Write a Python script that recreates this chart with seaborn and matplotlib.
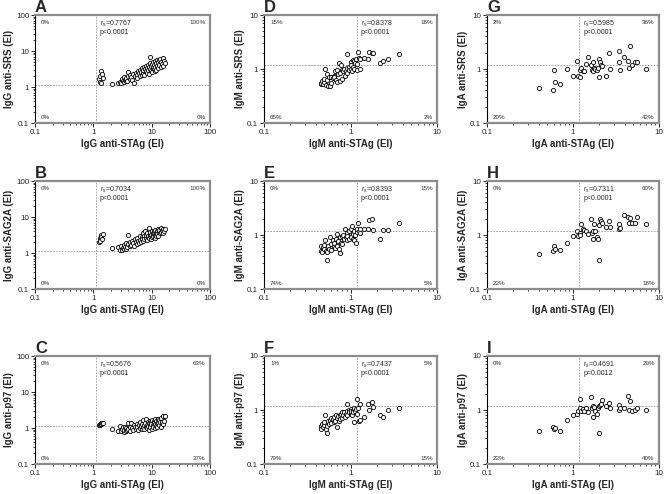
import matplotlib
matplotlib.use("Agg")
import matplotlib.pyplot as plt
import seaborn as sns
import pandas as pd
from matplotlib.ticker import FixedLocator, LogLocator, NullFormatter, FuncFormatter

sns.set_style("ticks")
plt.rcParams['font.family'] = ['Liberation Sans', 'DejaVu Sans']
plt.rcParams['mathtext.fontset'] = 'custom'
plt.rcParams['mathtext.rm'] = 'Liberation Sans'
plt.rcParams['mathtext.it'] = 'Liberation Sans'

# ---------------- data ----------------
igg_stag = [1.25, 1.3, 1.32, 1.35, 1.38, 1.42, 1.45,
            2.1, 2.6, 2.9, 3.0, 3.1, 3.2, 3.3, 3.4, 3.5, 3.6,
            3.7, 3.8, 4.0, 4.0, 4.2, 4.3, 4.5, 4.6, 4.8, 5.0,
            5.1, 5.3, 5.5, 5.6, 5.8, 6.0, 6.2, 6.3, 6.5, 6.7,
            6.9, 7.0, 7.2, 7.4, 7.5, 7.7, 7.9, 8.0, 8.2, 8.4,
            8.5, 8.7, 8.9, 9.0, 9.2, 9.4, 9.5, 9.7, 9.9, 10.0,
            10.2, 10.4, 10.6, 10.8, 11.0, 11.2, 11.4, 11.6, 11.8, 12.0,
            12.2, 12.5, 12.8, 13.0, 13.3, 13.6, 14.0, 14.3, 14.6, 15.0,
            15.4, 15.8, 16.2, 16.8]
igg_srs = [1.7, 1.4, 2.0, 1.3, 2.7, 2.3, 1.8,
           1.2, 1.3, 1.4, 1.3, 1.7, 1.5, 1.4, 1.9, 1.6, 1.5,
           1.8, 1.5, 2.0, 2.6, 1.7, 2.1, 1.9, 1.6, 2.3, 1.3,
           2.0, 2.5, 2.2, 1.8, 2.8, 2.4, 2.0, 3.0, 2.6, 2.2,
           3.3, 2.4, 2.9, 3.6, 2.1, 3.1, 2.7, 3.9, 2.5, 3.4,
           4.2, 2.9, 3.6, 2.3, 4.6, 3.2, 7.0, 2.8, 3.8, 4.4,
           2.6, 3.5, 5.0, 3.1, 4.0, 2.7, 5.4, 3.6, 4.6, 3.0,
           5.8, 3.9, 4.8, 3.3, 5.5, 4.1, 6.0, 3.6, 5.0, 4.3,
           6.5, 3.8, 5.2, 4.5]
igg_sag2a = [2.0, 2.6, 2.2, 3.2, 2.8, 2.4, 3.4,
             1.35, 1.45, 1.25, 1.6, 1.2, 1.4, 1.3, 1.7, 1.5, 1.3,
             1.9, 1.5, 3.1, 1.8, 1.6, 2.0, 1.7, 2.2, 1.9, 1.6,
             2.4, 2.0, 1.8, 2.6, 2.2, 1.9, 3.0, 2.3, 2.0, 2.7,
             2.4, 3.6, 2.2, 2.9, 2.5, 4.0, 2.6, 3.2, 2.3, 3.5,
             2.8, 3.0, 5.0, 2.6, 3.4, 2.9, 3.8, 2.5, 3.2, 4.2,
             2.8, 3.6, 3.0, 4.0, 3.3, 2.6, 4.4, 3.1, 3.7, 2.9,
             4.1, 3.4, 4.6, 3.0, 3.8, 4.3, 3.5, 4.8, 3.9, 4.4,
             3.6, 4.7, 4.0, 4.5]
igg_p97 = [1.25, 1.2, 1.3, 1.35, 1.3, 1.4, 1.35,
           0.95, 0.8, 1.15, 0.85, 0.95, 1.05, 0.78, 0.9, 1.1, 0.85,
           1.0, 0.9, 1.35, 0.95, 1.1, 0.85, 1.4, 1.0, 0.9, 1.2,
           1.05, 0.95, 1.3, 1.1, 0.9, 1.25, 1.0, 1.45, 1.15, 0.95,
           1.3, 1.05, 1.7, 1.2, 0.95, 1.4, 1.1, 1.8, 1.25, 1.0,
           1.5, 1.15, 1.35, 0.9, 1.6, 1.2, 1.05, 1.45, 1.3, 0.95,
           1.7, 1.25, 1.1, 1.55, 1.35, 1.0, 1.75, 1.3, 1.15, 1.6,
           1.4, 1.05, 1.8, 1.35, 1.2, 1.65, 1.45, 1.1, 1.9, 1.5,
           1.3, 2.1, 1.6, 2.2]

igm_stag = [0.45, 0.46, 0.47, 0.48, 0.5, 0.5, 0.51, 0.52, 0.53, 0.54,
            0.55, 0.56, 0.58, 0.6, 0.6, 0.62, 0.64, 0.65, 0.67, 0.68,
            0.7, 0.7, 0.72, 0.73, 0.75, 0.76, 0.78, 0.8, 0.8, 0.82,
            0.84, 0.86, 0.88, 0.9, 0.9, 0.92, 0.95, 0.97, 1.0, 1.0,
            1.02, 1.04, 1.06, 1.08, 1.1, 1.1, 1.12, 1.15, 1.18, 1.2,
            1.22, 1.25, 1.28, 1.3, 1.45, 1.6, 1.65, 1.75, 1.8, 2.2,
            2.35, 2.7, 3.6]
igm_srs = [0.52, 0.55, 0.6, 0.52, 0.58, 0.65, 1.0, 0.5, 0.8, 0.62,
           0.48, 0.7, 0.48, 0.72, 0.55, 0.68, 0.75, 0.72, 0.9, 0.62,
           0.95, 0.58, 0.8, 1.3, 0.6, 0.85, 1.2, 0.95, 0.65, 0.9,
           1.0, 0.75, 0.92, 1.9, 1.05, 0.85, 1.1, 0.95, 1.35, 1.0,
           1.2, 0.9, 1.45, 1.1, 1.0, 1.4, 1.3, 1.55, 1.25, 0.95,
           2.1, 1.6, 1.0, 1.55, 1.6, 1.55, 2.1, 1.95, 2.0, 1.3,
           1.4, 1.5, 1.9]
igm_sag2a = [0.5, 0.62, 0.48, 0.6, 0.55, 0.65, 0.8, 0.5, 0.35, 0.48,
             0.62, 0.55, 0.9, 0.68, 0.52, 0.8, 0.62, 0.72, 0.58, 0.85,
             0.62, 1.05, 0.78, 0.55, 0.9, 0.46, 0.7, 0.95, 0.68, 1.0,
             0.85, 1.3, 0.9, 0.8, 1.1, 0.95, 1.2, 0.85, 1.0, 1.3,
             0.9, 1.45, 1.05, 0.85, 1.2, 0.8, 1.0, 0.72, 1.15, 1.3,
             1.7, 1.2, 1.3, 1.1, 1.3, 1.3, 1.9, 2.0, 1.25, 0.85,
             1.25, 1.25, 1.7]
igm_p97 = [0.5, 0.45, 0.55, 0.48, 0.52, 0.6, 0.8, 0.45, 0.37, 0.5,
           0.62, 0.55, 0.65, 0.72, 0.58, 0.68, 0.6, 0.75, 0.62, 0.8,
           0.7, 0.48, 0.78, 0.62, 0.8, 0.68, 0.85, 0.72, 0.9, 0.8,
           0.9, 0.75, 0.85, 1.3, 0.95, 0.8, 1.0, 0.9, 0.85, 1.05,
           0.95, 0.8, 1.0, 0.9, 1.1, 0.6, 0.95, 1.05, 0.85, 1.6,
           1.1, 0.62, 1.3, 0.65, 0.75, 1.3, 1.0, 1.4, 1.15, 0.8,
           0.75, 1.0, 1.1]

iga_stag = [0.4, 0.58, 0.6, 0.62, 0.7, 0.85, 1.0, 1.1, 1.15, 1.2,
            1.2, 1.25, 1.3, 1.35, 1.4, 1.5, 1.6, 1.65, 1.7, 1.7,
            1.75, 1.8, 1.9, 1.95, 2.0, 2.0, 2.05, 2.1, 2.2, 2.4,
            2.6, 2.7, 3.4, 3.4, 3.5, 3.9, 4.4, 4.5, 4.6, 4.8,
            5.2, 5.6, 7.0]
iga_srs = [0.45, 0.4, 0.95, 0.58, 0.52, 1.0, 0.75, 1.4, 0.75, 0.7,
           0.95, 1.05, 0.9, 0.9, 1.25, 1.7, 1.2, 0.95, 1.35, 0.9,
           1.05, 1.0, 0.95, 1.05, 0.7, 1.5, 1.35, 1.2, 1.15, 0.75,
           2.0, 1.0, 2.2, 1.35, 0.95, 1.65, 1.4, 1.05, 2.7, 1.2,
           1.35, 1.35, 1.0]
iga_sag2a = [0.45, 0.5, 0.62, 0.55, 0.52, 0.7, 0.95, 1.2, 0.95, 1.1,
             1.0, 1.6, 1.3, 1.25, 1.2, 1.05, 2.0, 1.1, 1.2, 0.85,
             1.6, 1.2, 0.9, 0.85, 0.35, 1.55, 2.0, 1.8, 1.7, 1.4,
             1.8, 1.4, 1.6, 1.3, 1.35, 2.3, 2.2, 1.7, 2.1, 1.7,
             1.7, 2.2, 1.6]
iga_p97 = [0.4, 0.48, 0.45, 0.47, 0.4, 0.65, 0.8, 0.85, 0.95, 1.1,
           1.6, 0.95, 1.05, 0.95, 1.1, 0.9, 1.75, 1.1, 0.75, 1.2,
           1.15, 0.95, 0.85, 1.1, 0.37, 1.2, 1.25, 1.3, 1.5, 1.2,
           1.35, 1.1, 1.25, 1.0, 1.1, 1.1, 1.85, 1.0, 1.45, 0.95,
           0.98, 1.1, 1.0]

panel_letters = ["A", "B", "C", "D", "E", "F", "G", "H", "I"]
x_labels = ["IgG anti-STAg (EI)", "IgM anti-STAg (EI)", "IgA anti-STAg (EI)"]
y_labels = ["IgG anti-SRS (EI)", "IgG anti-SAG2A (EI)", "IgG anti-p97 (EI)",
            "IgM anti-SRS (EI)", "IgM anti-SAG2A (EI)", "IgM anti-p97 (EI)",
            "IgA anti-SRS (EI)", "IgA anti-SAG2A (EI)", "IgA anti-p97 (EI)"]
rs_values = ["0.7767", "0.7034", "0.5676", "0.8378", "0.8393", "0.7437",
             "0.5985", "0.7311", "0.4691"]
p_values = ["p<0.0001", "p<0.0001", "p<0.0001", "p<0.0001", "p<0.0001",
            "p<0.0001", "p<0.0001", "p<0.0001", "p=0.0012"]
# quadrant percentages: top-left, top-right, bottom-left, bottom-right
quadrants = [("0%", "100%", "0%", "0%"), ("0%", "100%", "0%", "0%"),
             ("0%", "63%", "0%", "37%"), ("15%", "18%", "65%", "2%"),
             ("6%", "15%", "74%", "5%"), ("1%", "5%", "79%", "15%"),
             ("2%", "36%", "20%", "42%"), ("0%", "60%", "22%", "18%"),
             ("0%", "29%", "22%", "49%")]

x_data = [igg_stag, igm_stag, iga_stag]
y_data = [igg_srs, igg_sag2a, igg_p97, igm_srs, igm_sag2a, igm_p97,
          iga_srs, iga_sag2a, iga_p97]

# ---------------- layout ----------------
W, H = 664, 494
fig = plt.figure(figsize=(W / 100, H / 100), dpi=100)
col_left = [35, 264, 487]
col_width = [175, 173, 172]
row_top = [15, 181, 356]
ax_h = 108
limits = [(0.1, 100), (0.1, 10), (0.1, 10)]
cut_x = [1.1, 1.18, 1.18]
cut_y = 1.17
grey = "#8c8c8c"

for c in range(3):
    for r in range(3):
        k = c * 3 + r
        left = col_left[c] / W
        bottom = 1 - (row_top[r] + ax_h) / H
        ax = fig.add_axes([left, bottom, col_width[c] / W, ax_h / H])
        df = pd.DataFrame({"x": x_data[c], "y": y_data[k]})
        sns.scatterplot(data=df, x="x", y="y", ax=ax, marker="o", s=9,
                        facecolor="white", edgecolor="black", linewidth=0.6,
                        zorder=3, legend=False)
        ax.set_xscale("log")
        ax.set_yscale("log")
        lo, hi = limits[c]
        ax.set_xlim(lo, hi)
        ax.set_ylim(lo, hi)
        major = [v for v in [0.1, 1, 10, 100] if lo <= v <= hi]
        for axis in (ax.xaxis, ax.yaxis):
            axis.set_major_locator(FixedLocator(major))
            axis.set_minor_locator(LogLocator(base=10, subs=range(2, 10)))
            axis.set_minor_formatter(NullFormatter())
            axis.set_major_formatter(FuncFormatter(lambda v, p: f"{v:g}"))
        ax.tick_params(which="major", length=3, width=0.6, labelsize=5.8,
                       pad=1.2, color="black")
        ax.tick_params(which="minor", length=1.5, width=0.5, color="black")
        for side in ["top", "right", "bottom"]:
            ax.spines[side].set_color(grey)
            ax.spines[side].set_linewidth(1.6)
        ax.spines["left"].set_color("black")
        ax.spines["left"].set_linewidth(0.8)

        ax.axvline(cut_x[c], color="#999999", lw=0.6, ls=(0, (2, 1.5)), zorder=1)
        ax.axhline(cut_y, color="#999999", lw=0.6, ls=(0, (2, 1.5)), zorder=1)

        ax.set_xlabel(x_labels[c], fontsize=7, fontweight="bold", labelpad=2)
        ax.set_ylabel(y_labels[k], fontsize=7, fontweight="bold", labelpad=1.5)

        tl, tr, bl, br = quadrants[k]
        qkw = dict(fontsize=4.5, color="#333333", transform=ax.transAxes)
        ax.text(0.035, 0.955, tl, ha="left", va="top", **qkw)
        ax.text(0.975, 0.955, tr, ha="right", va="top", **qkw)
        ax.text(0.035, 0.03, bl, ha="left", va="bottom", **qkw)
        ax.text(0.975, 0.03, br, ha="right", va="bottom", **qkw)

        ax.annotate("r$_s$=" + rs_values[k], xy=(cut_x[c], 1.0),
                    xycoords=("data", "axes fraction"), xytext=(3, -3),
                    textcoords="offset points", fontsize=5, ha="left", va="top")
        ax.annotate(p_values[k], xy=(cut_x[c], 1.0),
                    xycoords=("data", "axes fraction"), xytext=(3, -10),
                    textcoords="offset points", fontsize=5, ha="left", va="top")

        ax.text(0.0, 1.0, panel_letters[k], transform=ax.transAxes,
                fontsize=12, fontweight="bold", ha="left", va="bottom")

fig.savefig("out.png", dpi=100)
